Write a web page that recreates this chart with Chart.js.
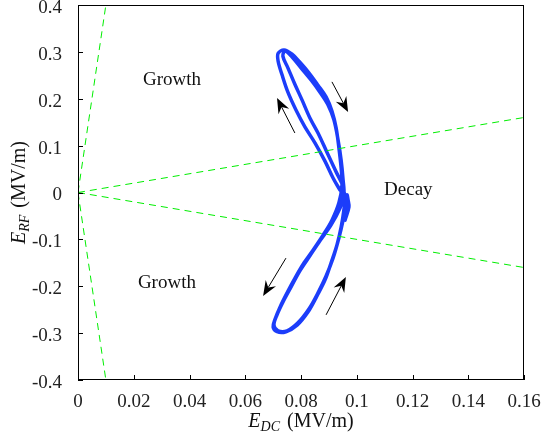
<!DOCTYPE html>
<html>
<head>
<meta charset="utf-8">
<script src="https://cdn.jsdelivr.net/npm/chart.js@4.4.1/dist/chart.umd.min.js"></script>
<style>
  html, body { margin: 0; padding: 0; background: #fff; }
  #wrap { width: 550px; height: 440px; }
</style>
</head>
<body>
<div id="wrap"><canvas id="chart"></canvas></div>
<script>
// Valores dos eixos
const xTicks = [0, 0.02, 0.04, 0.06, 0.08, 0.1, 0.12, 0.14, 0.16];
const yTicks = [-0.4, -0.3, -0.2, -0.1, 0, 0.1, 0.2, 0.3, 0.4];

// Linhas de fronteira (verde tracejado)
const steepX = [0, 0.01];
const steepUpY = [0, 0.4];
const steepDownY = [0, -0.4];
const flatX = [0, 0.16];
const flatUpY = [0, 0.16];
const flatDownY = [0, -0.16];

// Trajetória (E_DC, E_RF)
const trajX = [
  0.0940, 0.0915, 0.0886, 0.0850, 0.0814, 0.0782, 0.0753, 0.0732, 0.0718, 0.0718,
  0.0739, 0.0768, 0.0796, 0.0829, 0.0861, 0.0890, 0.0911, 0.0926, 0.0936, 0.0944,
  0.0947, 0.0936, 0.0911, 0.0879, 0.0843, 0.0811, 0.0779, 0.0750, 0.0725, 0.0707,
  0.0700, 0.0714, 0.0746, 0.0786, 0.0825, 0.0857, 0.0886, 0.0908, 0.0929, 0.0944,
  0.0954, 0.0958, 0.0947,
  0.0951, 0.0926, 0.0893, 0.0861, 0.0832, 0.0804, 0.0778, 0.0753, 0.0735, 0.0743,
  0.0768, 0.0800, 0.0836, 0.0868, 0.0897, 0.0918, 0.0933, 0.0944, 0.0951, 0.0954,
  0.0940, 0.0908, 0.0868, 0.0832, 0.0796, 0.0764, 0.0735, 0.0714, 0.0703, 0.0718,
  0.0750, 0.0789, 0.0829, 0.0861, 0.0890, 0.0915, 0.0936, 0.0951, 0.0961, 0.0965,
  0.0969, 0.0972, 0.0958
];
const trajY = [
  0.005, 0.031, 0.067, 0.106, 0.140, 0.176, 0.214, 0.251, 0.280, 0.297,
  0.304, 0.295, 0.278, 0.255, 0.229, 0.204, 0.174, 0.138, 0.095, 0.052,
  0.016, -0.022, -0.059, -0.091, -0.123, -0.150, -0.182, -0.214, -0.244, -0.270,
  -0.287, -0.297, -0.297, -0.283, -0.255, -0.221, -0.187, -0.150, -0.112, -0.074,
  -0.037, -0.008, 0.014,
  0.014, 0.044, 0.086, 0.127, 0.159, 0.197, 0.231, 0.266, 0.291, 0.302,
  0.289, 0.266, 0.240, 0.214, 0.187, 0.155, 0.112, 0.069, 0.027, -0.005,
  -0.033, -0.069, -0.103, -0.135, -0.167, -0.202, -0.234, -0.261, -0.283, -0.295,
  -0.295, -0.278, -0.248, -0.214, -0.178, -0.140, -0.097, -0.059, -0.027, -0.005,
  -0.016, -0.031, -0.059
];

// Setas de direção
const arrowFromX = [0.0778, 0.0911, 0.0746, 0.0890];
const arrowFromY = [0.127, 0.236, -0.140, -0.261];
const arrowToX = [0.0714, 0.0969, 0.0664, 0.0961];
const arrowToY = [0.2015, 0.1716, -0.2207, -0.1802];

// Rótulos das regiões
const regionNames = ['Growth', 'Growth', 'Decay'];
const regionX = [0.0337, 0.0319, 0.1185];
const regionY = [0.240, -0.193, 0.005];

const toPoints = (xs, ys) => xs.map((x, i) => ({ x: x, y: ys[i] }));
const serif = "'Liberation Serif', 'Times New Roman', serif";
const fmt = v => String(Math.round(v * 100) / 100);

const guide = (data) => ({
    data: data,
    showLine: true,
    borderColor: '#00ee00',
    borderWidth: 1,
    borderDash: [7, 5],
    pointRadius: 0,
    tension: 0
});

// Desenho da moldura, ticks internos, setas, textos
const decorations = {
    id: 'decorations',
    afterDraw(chart) {
        const c = chart.ctx;
        const a = chart.chartArea;
        const xs = chart.scales.x, ys = chart.scales.y;
        c.save();
        c.strokeStyle = '#000';
        c.lineWidth = 1;
        c.strokeRect(a.left + 0.5, a.top + 0.5, a.right - a.left - 1, a.bottom - a.top - 1);
        c.beginPath();
        xTicks.forEach(v => {
            const px = Math.round(xs.getPixelForValue(v)) + 0.5;
            c.moveTo(px, a.bottom); c.lineTo(px, a.bottom - 5);
        });
        yTicks.forEach(v => {
            const py = Math.round(ys.getPixelForValue(v)) + 0.5;
            c.moveTo(a.left, py); c.lineTo(a.left + 5, py);
        });
        c.stroke();

        // setas
        c.fillStyle = '#000';
        arrowFromX.forEach((fx, i) => {
            const x0 = xs.getPixelForValue(fx), y0 = ys.getPixelForValue(arrowFromY[i]);
            const x1 = xs.getPixelForValue(arrowToX[i]), y1 = ys.getPixelForValue(arrowToY[i]);
            const ang = Math.atan2(y1 - y0, x1 - x0);
            const len = 15, half = 6, notch = 10;
            const ux = Math.cos(ang), uy = Math.sin(ang);
            c.beginPath();
            c.moveTo(x0, y0);
            c.lineTo(x1 - ux * notch, y1 - uy * notch);
            c.stroke();
            c.beginPath();
            c.moveTo(x1, y1);
            c.lineTo(x1 - ux * len - uy * half, y1 - uy * len + ux * half);
            c.lineTo(x1 - ux * notch, y1 - uy * notch);
            c.lineTo(x1 - ux * len + uy * half, y1 - uy * len - ux * half);
            c.closePath();
            c.fill();
        });

        // rótulos das regiões
        c.font = '19px ' + serif;
        c.fillStyle = '#111';
        c.textAlign = 'center';
        c.textBaseline = 'middle';
        regionNames.forEach((t, i) => {
            c.fillText(t, xs.getPixelForValue(regionX[i]), ys.getPixelForValue(regionY[i]));
        });

        // títulos dos eixos
        const drawTitle = (sub, cx, base) => {
            c.textAlign = 'left';
            c.textBaseline = 'alphabetic';
            c.font = 'italic 20px ' + serif;
            const wE = c.measureText('E').width;
            c.font = 'italic 14px ' + serif;
            const wS = c.measureText(sub).width;
            c.font = '20px ' + serif;
            const wU = c.measureText('(MV/m)').width;
            const gap = 7;
            let x = cx - (wE + wS + gap + wU) / 2;
            c.font = 'italic 20px ' + serif;
            c.fillText('E', x, base); x += wE;
            c.font = 'italic 14px ' + serif;
            c.fillText(sub, x, base + 4); x += wS + gap;
            c.font = '20px ' + serif;
            c.fillText('(MV/m)', x, base);
        };
        drawTitle('DC', (a.left + a.right) / 2, 427);
        c.save();
        c.translate(25, (a.top + a.bottom) / 2);
        c.rotate(-Math.PI / 2);
        drawTitle('RF', 0, 0);
        c.restore();
        c.restore();
    }
};

new Chart(document.getElementById('chart'), {
    type: 'scatter',
    data: {
        datasets: [
            guide(toPoints(steepX, steepUpY)),
            guide(toPoints(steepX, steepDownY)),
            guide(toPoints(flatX, flatUpY)),
            guide(toPoints(flatX, flatDownY)),
            {
                data: toPoints(trajX, trajY),
                showLine: true,
                borderColor: '#1c3dfa',
                borderWidth: 3.5,
                borderCapStyle: 'round',
                borderJoinStyle: 'round',
                pointRadius: 0,
                tension: 0.35
            }
        ]
    },
    options: {
        responsive: true,
        maintainAspectRatio: false,
        animation: false,
        layout: { padding: { left: 0, top: 5, right: 26, bottom: 0 } },
        plugins: { legend: { display: false }, tooltip: { enabled: false } },
        scales: {
            x: {
                type: 'linear', min: 0, max: 0.16,
                grid: { display: false }, border: { display: false },
                afterBuildTicks: s => { s.ticks = xTicks.map(v => ({ value: v })); },
                afterFit: s => { s.height = 60; s.paddingLeft = 0; s.paddingRight = 0; },
                ticks: { color: '#222', padding: 3, maxRotation: 0, font: { family: serif, size: 19 }, callback: fmt }
            },
            y: {
                type: 'linear', min: -0.4, max: 0.4,
                grid: { display: false }, border: { display: false },
                afterBuildTicks: s => { s.ticks = yTicks.map(v => ({ value: v })); },
                afterFit: s => { s.width = 78; s.paddingTop = 0; s.paddingBottom = 0; },
                ticks: { color: '#222', padding: 8, labelOffset: 3, font: { family: serif, size: 19 }, callback: fmt }
            }
        }
    },
    plugins: [decorations]
});
</script>
</body>
</html>
